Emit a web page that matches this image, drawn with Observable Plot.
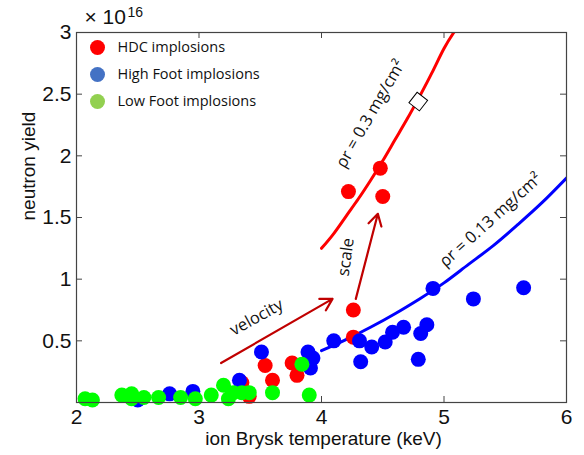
<!DOCTYPE html>
<html>
<head>
<meta charset="utf-8">
<script src="https://cdn.jsdelivr.net/npm/d3@7"></script>
<script src="https://cdn.jsdelivr.net/npm/@observablehq/plot@0.6"></script>
<style>
  html, body { margin: 0; padding: 0; background: #fff; }
  #chart { width: 584px; height: 455px; }
</style>
</head>
<body>
<div id="chart"></div>
<script>
// ---- data (yield in units of 1e16) ----
const hdcT = [4.22, 4.48, 4.50, 4.26, 4.26, 3.54, 3.60, 3.76, 3.80, 3.35, 3.41];
const hdcY = [1.71, 1.90, 1.67, 0.75, 0.53, 0.30, 0.18, 0.32, 0.22, 0.16, 0.05];

const highT = [4.91, 5.24, 5.65, 4.10, 4.31, 4.32, 4.41, 4.52, 4.58, 4.67, 4.79, 4.81, 4.86, 3.89, 3.93, 3.91, 3.51, 3.33, 2.50, 2.76, 2.95];
const highY = [0.925, 0.84, 0.93, 0.50, 0.50, 0.33, 0.45, 0.49, 0.57, 0.61, 0.35, 0.56, 0.63, 0.41, 0.36, 0.28, 0.41, 0.18, 0.02, 0.07, 0.09];

const lowT = [2.07, 2.13, 2.37, 2.45, 2.45, 2.55, 2.67, 2.85, 2.97, 3.10, 3.20, 3.24, 3.28, 3.35, 3.41, 3.60, 3.84, 3.90];
const lowY = [0.03, 0.02, 0.06, 0.07, 0.03, 0.04, 0.04, 0.04, 0.03, 0.06, 0.14, 0.03, 0.08, 0.08, 0.08, 0.08, 0.31, 0.06];

// rho-r = 0.3 curve
const redCurveT = [4.0, 4.1, 4.2, 4.3, 4.4, 4.5, 4.6, 4.7, 4.8, 4.9, 5.0, 5.08];
const redCurveY = [1.25, 1.37, 1.51, 1.65, 1.80, 1.96, 2.13, 2.30, 2.48, 2.67, 2.87, 3.0];
// rho-r = 0.13 curve
const blueCurveT = [4.0, 4.2, 4.4, 4.6, 4.8, 5.0, 5.2, 5.4, 5.6, 5.8, 6.0];
const blueCurveY = [0.42, 0.51, 0.61, 0.72, 0.84, 0.97, 1.12, 1.27, 1.44, 1.62, 1.82];

const diamondT = [4.79];
const diamondY = [2.44];

// arrows
const arrowNames = ["velocity", "scale"];
const arrowX1 = [3.18, 4.28];
const arrowY1 = [0.32, 0.84];
const arrowX2 = [4.09, 4.46];
const arrowY2 = [0.84, 1.53];

// annotations
const noteText = ["ρr = 0.3 mg/cm²", "ρr = 0.13 mg/cm²", "velocity", "scale"];
const noteT = [4.40, 5.38, 3.47, 4.20];
const noteY = [2.34, 1.48, 0.69, 1.18];
const noteRot = [-60, -42, -29, -82];

const xTicks = [2, 3, 4, 5, 6];
const yTicks = [0.5, 1, 1.5, 2, 2.5, 3];

const legendLabels = ["HDC implosions", "High Foot implosions", "Low Foot implosions"];
const legendColors = ["#ff0000", "#4472c4", "#92d050"];

const zip = (a, b) => a.map((v, i) => ({x: v, y: b[i]}));

const W = 584, H = 455, mL = 76, mR = 18, mT = 32, mB = 53;
const innerW = W - mL - mR, innerH = H - mT - mB;
const tickLen = 6;
const axisFont = "Liberation Sans, Arial, Helvetica, sans-serif";
const noteFont = "Open Sans, Lato, sans-serif";

const legendMarks = [];
legendLabels.forEach((lab, i) => {
  const dy = 15 + i * 27;
  legendMarks.push(Plot.dot([lab], {frameAnchor: "top-left", dx: 21, dy, r: 7.5, fill: legendColors[i], stroke: "none"}));
  legendMarks.push(Plot.text([lab], {frameAnchor: "top-left", dx: 41, dy, text: d => d, textAnchor: "start", lineAnchor: "middle", fontSize: 14.5, fontFamily: noteFont, fill: "#111"}));
});

const notes = noteText.map((t, i) => ({text: t, x: noteT[i], y: noteY[i], rot: noteRot[i]}));
const arrows = arrowNames.map((n, i) => ({x1: arrowX1[i], y1: arrowY1[i], x2: arrowX2[i], y2: arrowY2[i]}));

const chart = Plot.plot({
  width: W, height: H,
  marginLeft: mL, marginRight: mR, marginTop: mT, marginBottom: mB,
  x: {domain: [2, 6]},
  y: {domain: [0, 3]},
  style: {background: "#fff"},
  marks: [
    // tick labels
    Plot.axisX(xTicks, {tickSize: 0, tickPadding: 7, fontSize: 21, fontFamily: axisFont, fill: "#111", label: null, tickFormat: d => d}),
    Plot.axisY(yTicks, {tickSize: 0, tickPadding: 5, fontSize: 21, fontFamily: axisFont, fill: "#111", label: null, tickFormat: d => String(d)}),
    // inward ticks
    Plot.tickX(xTicks, {x: d => d, insetTop: innerH - tickLen, stroke: "#444"}),
    Plot.tickX(xTicks, {x: d => d, insetBottom: innerH - tickLen, stroke: "#444"}),
    Plot.tickY(yTicks, {y: d => d, insetRight: innerW - tickLen, stroke: "#444"}),
    Plot.tickY(yTicks, {y: d => d, insetLeft: innerW - tickLen, stroke: "#444"}),
    // curves
    Plot.line(zip(redCurveT, redCurveY), {x: "x", y: "y", stroke: "#ff0000", strokeWidth: 3, curve: "natural", clip: true}),
    Plot.line(zip(blueCurveT, blueCurveY), {x: "x", y: "y", stroke: "#0000ff", strokeWidth: 3, curve: "natural", clip: true}),
    // data
    Plot.dot(zip(hdcT, hdcY), {x: "x", y: "y", r: 7.5, fill: "#ff0000"}),
    Plot.dot(zip(highT, highY), {x: "x", y: "y", r: 7.5, fill: "#0000ff"}),
    Plot.dot(zip(lowT, lowY), {x: "x", y: "y", r: 7.5, fill: "#00ff00"}),
    Plot.dot(zip(diamondT, diamondY), {x: "x", y: "y", symbol: "square", r: 7.5, rotate: 38, fill: "white", stroke: "black", strokeWidth: 1}),
    // arrows
    Plot.arrow(arrows, {x1: "x1", y1: "y1", x2: "x2", y2: "y2", stroke: "#c00000", strokeWidth: 2.2, headLength: 9}),
    // annotations
    ...notes.map(n => Plot.text([n], {x: "x", y: "y", text: "text", rotate: n.rot, fontSize: 16.5, fontFamily: noteFont, fill: "#111"})),
    // frame
    Plot.frame({stroke: "#444", strokeWidth: 1.2}),
    // exponent
    Plot.text(["× 10"], {frameAnchor: "top-left", dx: 8, dy: -15, text: d => d, textAnchor: "start", lineAnchor: "middle", fontSize: 21, fontFamily: axisFont, fill: "#111"}),
    Plot.text(["16"], {frameAnchor: "top-left", dx: 51, dy: -20, text: d => d, textAnchor: "start", lineAnchor: "middle", fontSize: 14, fontFamily: axisFont, fill: "#111"}),
    // axis titles
    Plot.text(["ion Brysk temperature (keV)"], {frameAnchor: "bottom", dy: 36, dx: 2, text: d => d, lineAnchor: "middle", fontSize: 19, fontFamily: axisFont, fill: "#111"}),
    Plot.text(["neutron yield"], {frameAnchor: "left", dx: -48, dy: 3, text: d => d, rotate: -90, lineAnchor: "middle", fontSize: 19, fontFamily: axisFont, fill: "#111"}),
    ...legendMarks
  ]
});
document.getElementById("chart").appendChild(chart);
</script>
</body>
</html>
